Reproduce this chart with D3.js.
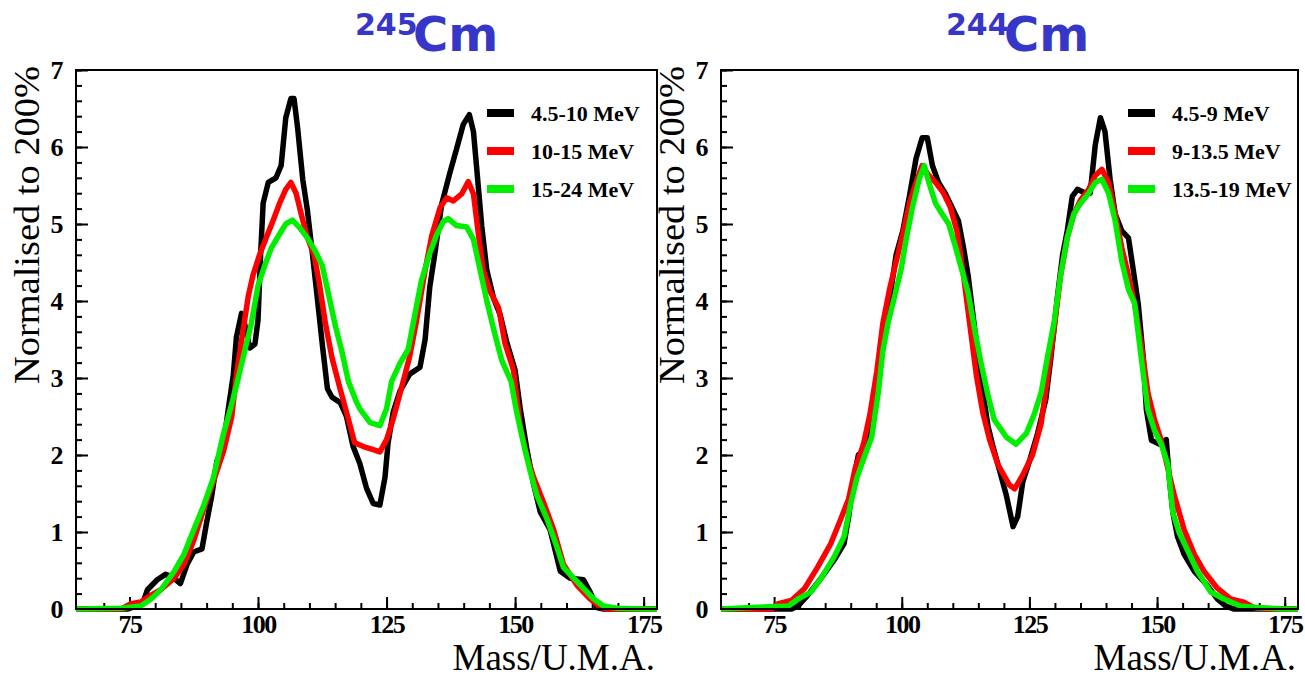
<!DOCTYPE html>
<html>
<head>
<meta charset="utf-8">
<script src="https://cdn.jsdelivr.net/npm/d3@7"></script>
<style>
  body { margin: 0; background: #fff; }
</style>
</head>
<body>
<svg id="chart" width="1305" height="678"></svg>
<script>
// mass / value pairs
const cm245_low = [[64.6,0],[74.7,0],[76,0.03],[77.6,0.08],[78.5,0.25],[80.4,0.38],[82,0.45],[83.3,0.42],[84.9,0.33],[86.2,0.58],[87.5,0.74],[89.1,0.78],[90,1.12],[91,1.47],[92,1.92],[93.3,2.14],[94.2,2.59],[95.2,3.04],[95.8,3.53],[96.8,3.84],[97.4,3.7],[98.4,3.39],[99.4,3.44],[100,3.75],[100.5,4.6],[101,5.27],[102,5.54],[103.5,5.6],[104.5,5.76],[105.4,6.38],[106.4,6.63],[107,6.63],[107.7,6.25],[108.7,5.58],[109.6,5.18],[110.6,4.6],[111.5,4.06],[112.5,3.44],[113.5,2.86],[114.4,2.75],[116,2.68],[117.2,2.5],[118.5,2.11],[119.8,1.89],[121.1,1.57],[122.4,1.37],[123.7,1.35],[124.7,1.71],[125.3,2.16],[126.3,2.56],[127.6,2.83],[129.5,3.05],[131.5,3.14],[132.5,3.5],[133.4,4.18],[134.4,4.62],[135.7,5.25],[137.3,5.66],[138.6,5.97],[139.9,6.29],[141.1,6.42],[141.9,6.2],[142.5,5.75],[143.5,4.98],[144.5,4.4],[145.8,4.04],[147.1,3.82],[148.4,3.46],[150,3.1],[151,2.6],[152.3,2.07],[153.6,1.62],[154.9,1.26],[156.8,1.03],[158.8,0.49],[160.7,0.4],[163.3,0.38],[164.6,0.22],[165.9,0.02],[167.2,0],[177.6,0]];
const cm245_mid = [[64.6,0],[73.4,0],[75.3,0.07],[77.2,0.09],[79.2,0.18],[81.1,0.25],[83.7,0.4],[85.6,0.58],[87.5,0.89],[89.4,1.29],[91.3,1.65],[93.3,2.05],[94.9,2.5],[95.8,3.04],[97.1,3.62],[98.1,4.06],[99,4.33],[100.3,4.6],[101.6,4.82],[102.9,5.04],[104.2,5.27],[105.4,5.45],[106.4,5.54],[107.4,5.4],[108.4,5.13],[109.6,4.82],[110.9,4.6],[111.9,4.24],[113.1,3.71],[114.4,3.26],[116,2.85],[117.2,2.56],[118.8,2.16],[120.5,2.11],[122.4,2.07],[123.7,2.04],[125,2.2],[126.3,2.47],[127.9,2.87],[129.5,3.28],[130.8,3.73],[132.5,4.4],[133.8,4.85],[135.4,5.21],[136.7,5.34],[138,5.3],[139.6,5.39],[140.9,5.55],[141.9,5.39],[142.9,4.85],[143.8,4.4],[145.1,4.13],[146.8,3.91],[148,3.46],[149.7,3.1],[151,2.38],[152.3,1.98],[153.6,1.71],[155.5,1.39],[157.5,1.03],[159.4,0.58],[162,0.31],[164.6,0.13],[166.6,0.02],[168.5,0],[177.6,0]];
const cm245_high = [[64.6,0],[73.4,0.01],[77.2,0.04],[79.2,0.13],[81.1,0.25],[83.7,0.49],[85.6,0.71],[87.5,1.03],[89.4,1.34],[91.3,1.7],[93.3,2.28],[94.6,2.59],[95.8,2.9],[97.4,3.35],[98.7,3.71],[100,4.2],[101.3,4.46],[102.6,4.69],[104.2,4.87],[105.4,5],[106.7,5.05],[108,4.96],[109.6,4.82],[111.2,4.64],[112.5,4.46],[113.8,4.06],[115.1,3.66],[116.3,3.35],[117.6,2.95],[119.2,2.68],[119.8,2.6],[121.8,2.42],[123.7,2.38],[125,2.6],[126,2.96],[127.6,3.19],[129.2,3.37],[130.5,3.82],[131.8,4.27],[133.4,4.62],[134.7,4.85],[136,5.03],[137,5.07],[138.6,4.98],[140.6,4.96],[141.9,4.8],[143.2,4.4],[144.5,4],[145.8,3.64],[147.4,3.23],[149.2,2.96],[150.3,2.56],[151.6,2.16],[152.9,1.8],[154.2,1.48],[156.2,1.17],[158.1,0.81],[159.4,0.54],[161.4,0.4],[163.3,0.27],[165.3,0.13],[167.2,0.04],[169.8,0.01],[175,0],[177.6,0]];

const cm244_low = [[64.6,0],[78.4,0],[79.7,0.04],[81.6,0.18],[84.2,0.4],[86.7,0.63],[88.7,0.85],[89.6,1.2],[90.6,1.7],[91.5,2],[92.8,2.05],[94.1,2.32],[95.1,2.81],[96,3.35],[97,3.66],[97.9,4.15],[98.9,4.6],[100.2,4.91],[101.5,5.36],[102.8,5.85],[104,6.12],[105,6.12],[106,5.76],[107.2,5.54],[108.5,5.4],[109.8,5.22],[111.1,5.04],[112.1,4.69],[113,4.33],[114,3.79],[114.9,3.3],[115.9,2.81],[116.9,2.37],[117.9,2.1],[119.2,1.79],[120.5,1.47],[121.8,1.07],[122.7,1.2],[123.7,1.65],[125,1.92],[126.6,2.28],[128.2,2.72],[129.2,3.26],[130.5,4.06],[131.5,4.6],[132.4,4.91],[133.4,5.36],[134.4,5.45],[136,5.4],[136.9,5.4],[137.9,6.03],[138.9,6.38],[139.8,6.2],[140.8,5.58],[141.8,5.13],[143.1,4.91],[144.4,4.82],[145.3,4.42],[146.3,3.97],[147.3,3.26],[147.9,2.59],[148.9,2.19],[150.5,2.14],[151.8,2.2],[152.4,1.7],[153.1,1.25],[154,0.94],[155.3,0.71],[157.3,0.49],[159.8,0.31],[161.8,0.13],[163.4,0.04],[165,0],[177.6,0]];
const cm244_mid = [[64.6,0],[74.6,0],[75.8,0.07],[78.4,0.11],[81,0.27],[83.5,0.54],[86.1,0.85],[88,1.16],[89.6,1.43],[90.9,1.83],[92.5,2.14],[93.8,2.54],[95.1,3.08],[96.3,3.71],[97.6,4.15],[98.9,4.51],[100.2,4.87],[101.5,5.27],[102.8,5.54],[104,5.76],[105.3,5.63],[106.6,5.54],[108.2,5.4],[109.5,5.22],[110.8,4.91],[112.1,4.33],[113.3,3.71],[114.6,3.04],[115.9,2.54],[117.2,2.2],[118.8,1.88],[121.1,1.61],[122.1,1.56],[123.7,1.74],[125.6,2],[127.3,2.41],[128.5,2.99],[129.8,3.62],[131.1,4.33],[132.4,4.82],[133.7,5.13],[135,5.31],[136.6,5.45],[137.9,5.63],[139.2,5.71],[140.5,5.54],[141.8,5.13],[143.1,4.69],[144.4,4.33],[145.6,3.97],[146.9,3.44],[148.2,2.81],[149.5,2.46],[150.8,2.19],[152.1,1.83],[153.4,1.47],[155.3,1.03],[157.3,0.71],[159.2,0.49],[161.8,0.27],[164.4,0.13],[167,0.09],[168.9,0.02],[171.5,0],[177.6,0]];
const cm244_high = [[64.6,0],[70.7,0.02],[77.8,0.04],[79.7,0.13],[82.2,0.22],[84.2,0.4],[86.7,0.67],[88.7,0.94],[89.9,1.34],[91.2,1.7],[92.8,2],[94.1,2.23],[95.4,2.81],[96.3,3.35],[97.3,3.71],[98.6,4.06],[99.9,4.42],[100.8,4.78],[102.1,5.22],[103.4,5.58],[104.4,5.76],[105.3,5.54],[106.6,5.27],[107.9,5.13],[109.2,5],[110.4,4.73],[111.7,4.42],[113,4.11],[114.3,3.62],[115.6,3.17],[116.9,2.77],[118.1,2.46],[120.5,2.23],[122.4,2.14],[124.4,2.28],[126,2.54],[127.3,2.81],[128.5,3.26],[129.8,3.71],[131.1,4.33],[132.4,4.82],[133.7,5.13],[135,5.27],[136.6,5.4],[137.9,5.54],[139.2,5.58],[140.5,5.4],[141.8,5.04],[143.1,4.51],[144.4,4.15],[145.6,3.97],[146.9,3.26],[148.2,2.59],[149.5,2.32],[150.8,2.14],[152.1,1.88],[153.1,1.25],[154.4,0.98],[156,0.76],[157.9,0.49],[160.5,0.22],[163.1,0.13],[166.3,0.04],[169.5,0.02],[174.7,0],[177.6,0]];

const labels245 = ['4.5-10 MeV', '10-15 MeV', '15-24 MeV'];
const labels244 = ['4.5-9 MeV', '9-13.5 MeV', '13.5-19 MeV'];
const colors = ['#000000', '#ff0000', '#00ee00'];
const massDomain = [64.6, 177.6];
const majorX = [75, 100, 125, 150, 175];
const majorY = [0, 1, 2, 3, 4, 5, 6, 7];

const SERIF = '"Liberation Serif", "Times New Roman", serif';
const svg = d3.select('#chart');

function styleTicks(a) {
  a.select('.domain').remove();
  a.selectAll('line').attr('stroke', '#000').attr('stroke-width', 2);
  a.selectAll('text')
    .style('font-family', SERIF)
    .style('font-size', '26px')
    .style('font-weight', '700')
    .style('letter-spacing', '-1.5px')
    .style('fill', '#000');
}

function drawPanel(p) {
  let x = d3.scaleLinear().domain(massDomain).range([p.x0, p.x1]);
  let y = d3.scaleLinear().domain([0, 7]).range([609, 70]);
  let g = svg.append('g');

  // minor + major ticks pointing inwards (ROOT style)
  g.append('g').attr('transform', 'translate(0,609)')
    .call(d3.axisBottom(x).tickValues(d3.range(70, 178, 5)).tickSize(-6).tickFormat(''))
    .call(styleTicks);
  g.append('g').attr('transform', 'translate(0,609)')
    .call(d3.axisBottom(x).tickValues(majorX).tickSize(-12).tickPadding(6).tickFormat(d3.format('d')))
    .call(styleTicks);
  g.append('g').attr('transform', `translate(${p.x0},0)`)
    .call(d3.axisLeft(y).tickValues(d3.range(0, 7.01, 0.2)).tickSize(-6).tickFormat(''))
    .call(styleTicks);
  g.append('g').attr('transform', `translate(${p.x0},0)`)
    .call(d3.axisLeft(y).tickValues(majorY).tickSize(-12).tickPadding(14).tickFormat(d3.format('d')))
    .call(styleTicks);

  let line = d3.line().x(d => x(d[0])).y(d => y(d[1]));
  p.series.forEach((s, i) => {
    g.append('path').datum(s)
      .attr('d', line)
      .attr('fill', 'none')
      .attr('stroke', colors[i])
      .attr('stroke-width', 5.5)
      .attr('stroke-linejoin', 'round');
  });

  g.append('rect')
    .attr('x', p.x0).attr('y', 70)
    .attr('width', p.x1 - p.x0).attr('height', 539)
    .attr('fill', 'none').attr('stroke', '#000').attr('stroke-width', 2);

  // legend
  p.labels.forEach((lab, i) => {
    let ly = 113 + i * 38;
    g.append('line')
      .attr('x1', p.x1 - 170).attr('x2', p.x1 - 143)
      .attr('y1', ly).attr('y2', ly)
      .attr('stroke', colors[i]).attr('stroke-width', 8);
    g.append('text')
      .attr('x', p.x1 - 126).attr('y', ly + 8)
      .style('font-family', SERIF)
      .style('font-weight', '700').style('font-size', '22px')
      .text(lab);
  });

  g.append('text')
    .attr('transform', `translate(${p.x0 - 37},225) rotate(-90)`)
    .attr('text-anchor', 'middle')
    .style('font-family', SERIF)
    .style('font-size', '36px')
    .attr('textLength', 318).attr('lengthAdjust', 'spacingAndGlyphs')
    .text('Normalised to 200%');

  g.append('text')
    .attr('x', p.x1 - 2).attr('y', 670)
    .attr('text-anchor', 'end')
    .style('font-family', SERIF)
    .style('font-size', '37px')
    .text('Mass/U.M.A.');

  g.append('text')
    .attr('x', p.tx).attr('y', 35)
    .style('font-family', '"Comic Sans MS", "DejaVu Sans", sans-serif')
    .style('font-weight', 'bold').style('font-size', '30px')
    .attr('fill', '#3636c8')
    .text(p.iso);
  g.append('text')
    .attr('x', p.tx + 58).attr('y', 51)
    .style('font-family', '"Comic Sans MS", "DejaVu Sans", sans-serif')
    .style('font-weight', 'bold').style('font-size', '48px')
    .attr('fill', '#3636c8')
    .text('Cm');
}

drawPanel({ x0: 76, x1: 657, series: [cm245_low, cm245_mid, cm245_high], labels: labels245, iso: '245', tx: 355 });
drawPanel({ x0: 721, x1: 1298, series: [cm244_low, cm244_mid, cm244_high], labels: labels244, iso: '244', tx: 946 });
</script>
</body>
</html>
